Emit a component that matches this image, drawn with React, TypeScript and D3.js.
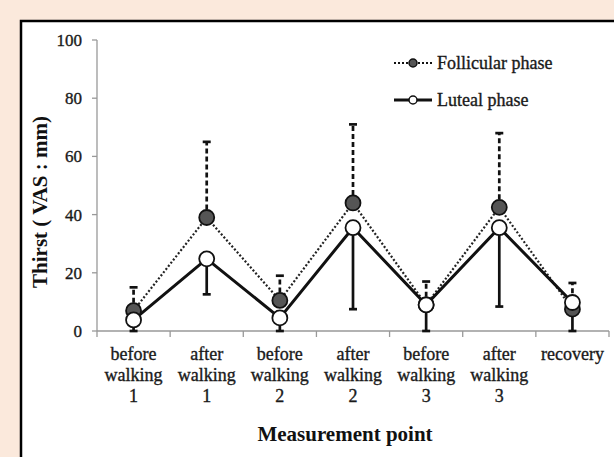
import { useEffect, useRef } from "react"
import * as d3 from "d3"

const categories = [
  ["before", "walking", "1"],
  ["after", "walking", "1"],
  ["before", "walking", "2"],
  ["after", "walking", "2"],
  ["before", "walking", "3"],
  ["after", "walking", "3"],
  ["recovery"],
]
const follicular = [7, 39, 10.5, 44, 9, 42.5, 7.5]
const follicularUpper = [15, 65, 19, 71, 17, 68, 16.5]
const luteal = [3.8, 24.8, 4.5, 35.5, 9, 35.5, 9.8]
const lutealLower = [0, 12.6, 0, 7.5, 0, 8.4, 0]
const yTicks = [0, 20, 40, 60, 80, 100]

const W = 614
const H = 457
const serif = "'Liberation Serif', 'Times New Roman', serif"

export default function App() {
  const svgRef = useRef<SVGSVGElement>(null)

  useEffect(() => {
    if (!svgRef.current) return
    const svg = d3.select(svgRef.current)
    svg.selectAll("*").remove()

    // page background + frame
    svg.append("rect").attr("width", W).attr("height", H).attr("fill", "#fbe9dc")
    svg.append("rect")
      .attr("x", 21).attr("y", 21).attr("width", W).attr("height", H)
      .attr("fill", "#fff").attr("stroke", "#000").attr("stroke-width", 2.5)

    const margin = { left: 97, right: 5, top: 40, bottom: 126 }
    const idx = categories.map((_, i) => String(i))
    const x = d3.scaleBand().domain(idx).range([margin.left, W - margin.right])
    const cx = (i: number) => (x(String(i)) as number) + x.bandwidth() / 2
    const y = d3.scaleLinear().domain([0, 100]).range([H - margin.bottom, margin.top])

    const txt = (sel: any, size: number) =>
      sel.attr("font-family", serif).attr("font-size", size)
        .attr("fill", "#1a1a1a").attr("stroke", "#1a1a1a").attr("stroke-width", 0.35)

    const axisColor = "#999"
    // y axis
    svg.append("line")
      .attr("x1", margin.left).attr("x2", margin.left)
      .attr("y1", y(100)).attr("y2", y(0))
      .attr("stroke", axisColor).attr("stroke-width", 1.3)
    yTicks.forEach(t => {
      svg.append("line")
        .attr("x1", margin.left - 5).attr("x2", margin.left)
        .attr("y1", y(t)).attr("y2", y(t))
        .attr("stroke", axisColor).attr("stroke-width", 1.3)
      txt(svg.append("text")
        .attr("x", margin.left - 15).attr("y", y(t)).attr("dy", "0.35em")
        .attr("text-anchor", "end"), 17)
        .text(t)
    })

    // x axis
    svg.append("line")
      .attr("x1", margin.left).attr("x2", W - margin.right)
      .attr("y1", y(0)).attr("y2", y(0))
      .attr("stroke", axisColor).attr("stroke-width", 1.3)
    for (let i = 0; i <= categories.length; i++) {
      const xp = margin.left + i * x.bandwidth()
      svg.append("line")
        .attr("x1", xp).attr("x2", xp).attr("y1", y(0)).attr("y2", y(0) + 6)
        .attr("stroke", axisColor).attr("stroke-width", 1.3)
    }
    categories.forEach((lines, i) => {
      const t = txt(svg.append("text")
        .attr("x", cx(i)).attr("y", y(0) + 29)
        .attr("text-anchor", "middle"), 18)
      lines.forEach((l, j) => {
        t.append("tspan").attr("x", cx(i)).attr("dy", j === 0 ? 0 : 21).text(l)
      })
    })

    // axis titles
    svg.append("text")
      .attr("transform", `translate(47,${202}) rotate(-90)`)
      .attr("text-anchor", "middle")
      .attr("font-family", serif).attr("font-size", 21).attr("font-weight", "bold").attr("fill", "#111")
      .text("Thirst ( VAS : mm)")
    svg.append("text")
      .attr("x", 345).attr("y", 441)
      .attr("text-anchor", "middle")
      .attr("font-family", serif).attr("font-size", 21).attr("font-weight", "bold").attr("fill", "#111")
      .text("Measurement point")

    // error bars
    const capW = 4
    follicular.forEach((v, i) => {
      svg.append("line")
        .attr("x1", cx(i)).attr("x2", cx(i)).attr("y1", y(v)).attr("y2", y(follicularUpper[i]))
        .attr("stroke", "#111").attr("stroke-width", 2.7).attr("stroke-dasharray", "5,3")
      svg.append("line")
        .attr("x1", cx(i) - capW).attr("x2", cx(i) + capW)
        .attr("y1", y(follicularUpper[i])).attr("y2", y(follicularUpper[i]))
        .attr("stroke", "#111").attr("stroke-width", 2.7)
    })
    luteal.forEach((v, i) => {
      svg.append("line")
        .attr("x1", cx(i)).attr("x2", cx(i)).attr("y1", y(v)).attr("y2", y(lutealLower[i]))
        .attr("stroke", "#111").attr("stroke-width", 2.7)
      svg.append("line")
        .attr("x1", cx(i) - capW).attr("x2", cx(i) + capW)
        .attr("y1", y(lutealLower[i])).attr("y2", y(lutealLower[i]))
        .attr("stroke", "#111").attr("stroke-width", 2.7)
    })

    const line = d3.line<number>().x((_, i) => cx(i)).y(d => y(d))
    svg.append("path").datum(follicular).attr("d", line)
      .attr("fill", "none").attr("stroke", "#222").attr("stroke-width", 2.2).attr("stroke-dasharray", "2,2")
    svg.append("path").datum(luteal).attr("d", line)
      .attr("fill", "none").attr("stroke", "#111").attr("stroke-width", 3)

    const r = 7.5
    svg.selectAll(".fol").data(follicular).enter().append("circle")
      .attr("cx", (_, i) => cx(i)).attr("cy", d => y(d)).attr("r", r)
      .attr("fill", "#555").attr("stroke", "#111").attr("stroke-width", 1.8)
    svg.selectAll(".lut").data(luteal).enter().append("circle")
      .attr("cx", (_, i) => cx(i)).attr("cy", d => y(d)).attr("r", r)
      .attr("fill", "#fff").attr("stroke", "#111").attr("stroke-width", 1.8)

    // legend
    const lg = [
      { name: "Follicular phase", fill: "#555", dash: "2,2", sw: 2.2, yy: 63 },
      { name: "Luteal phase", fill: "#fff", dash: null, sw: 3, yy: 100 },
    ]
    lg.forEach(d => {
      svg.append("line")
        .attr("x1", 394).attr("x2", 432).attr("y1", d.yy).attr("y2", d.yy)
        .attr("stroke", "#111").attr("stroke-width", d.sw)
        .attr("stroke-dasharray", d.dash)
      svg.append("circle").attr("cx", 413).attr("cy", d.yy).attr("r", 4)
        .attr("fill", d.fill).attr("stroke", "#111").attr("stroke-width", 1.5)
      txt(svg.append("text")
        .attr("x", 437).attr("y", d.yy).attr("dy", "0.35em"), 18)
        .text(d.name)
    })
  }, [])

  return (
    <svg ref={svgRef} width={W} height={H}
      style={{ position: "absolute", left: 0, top: 0, display: "block" }} />
  )
}
